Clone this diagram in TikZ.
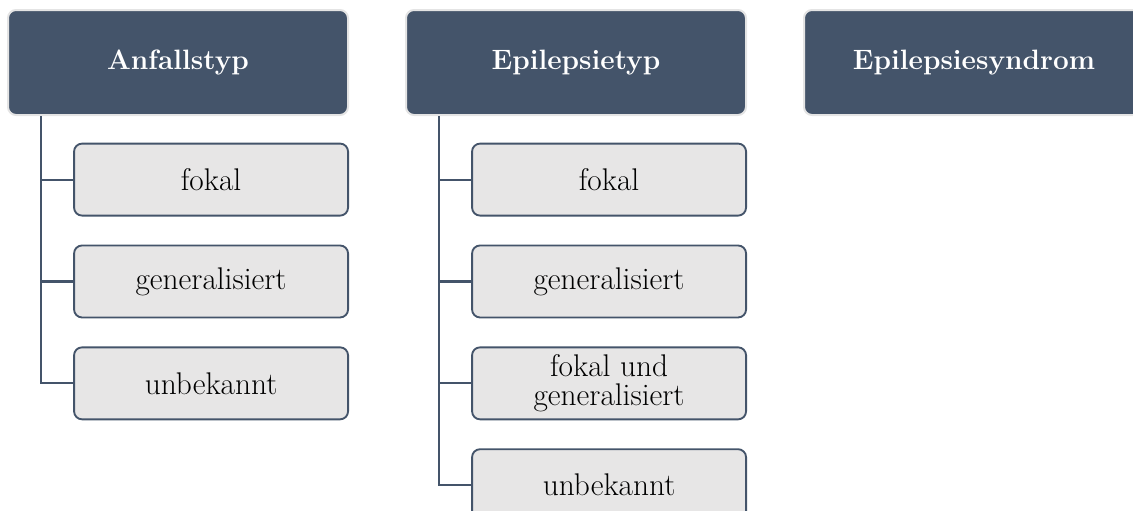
\documentclass[tikz,border=0pt]{standalone}
\usetikzlibrary{positioning}

\definecolor{slate}{HTML}{44546A}
\definecolor{rimgray}{HTML}{E4E4E4}
\definecolor{boxgray}{HTML}{E7E6E6}

\begin{document}
\begin{tikzpicture}[x=0.75pt,y=-0.75pt,node distance=21pt]
  \tikzstyle{head}=[draw=rimgray,line width=1.5pt,fill=slate,rounded corners=6pt,minimum width=255pt,minimum height=78.75pt,text=white,font=\fontsize{21}{24}\selectfont\bfseries]
  \tikzstyle{item}=[draw=slate,line width=1.4pt,fill=boxgray,rounded corners=6pt,minimum width=205.5pt,minimum height=54pt,align=center,font=\fontsize{23.5}{22}\selectfont]
  \tikzstyle{trunk}=[draw=slate,line width=1.6pt]
  \useasboundingbox (0,0) rectangle (1133,511);
  % Kopfzeile
  \node[head] (anf) at (178,62.5) {Anfallstyp};
  \node[head,right=42pt of anf] (epi) {Epilepsietyp};
  \node[head,right=42pt of epi] (syn) {Epilepsiesyndrom};
  % Anfallstyp
  \node[item,below=20pt of anf.south east,anchor=north east] (a1) {fokal};
  \node[item,below=of a1] (a2) {generalisiert};
  \node[item,below=of a2] (a3) {unbekannt};
  % Epilepsietyp
  \node[item,below=20pt of epi.south east,anchor=north east] (e1) {fokal};
  \node[item,below=of e1] (e2) {generalisiert};
  \node[item,below=of e2] (e3) {fokal und\\generalisiert};
  \node[item,below=of e3] (e4) {unbekannt};
  % Verbindungen
  \draw[trunk] ([xshift=25.5pt]anf.south west) |- (a3.west);
  \draw[trunk] ([xshift=25.5pt]anf.south west |- a1.west) -- (a1.west);
  \draw[trunk] ([xshift=25.5pt]anf.south west |- a2.west) -- (a2.west);
  \draw[trunk] ([xshift=25.5pt]epi.south west) |- (e4.west);
  \draw[trunk] ([xshift=25.5pt]epi.south west |- e1.west) -- (e1.west);
  \draw[trunk] ([xshift=25.5pt]epi.south west |- e2.west) -- (e2.west);
  \draw[trunk] ([xshift=25.5pt]epi.south west |- e3.west) -- (e3.west);
\end{tikzpicture}
\end{document}
